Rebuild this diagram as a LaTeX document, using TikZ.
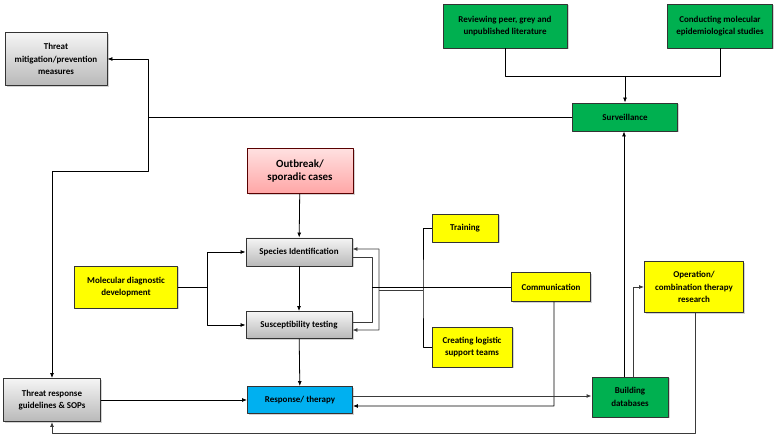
\documentclass[tikz,border=0pt]{standalone}
\usepackage{fontspec}
\setmainfont{Carlito}
\usetikzlibrary{positioning,shadows,arrows.meta}

\definecolor{boxgreen}{HTML}{00B050}
\definecolor{boxyellow}{HTML}{FFFF00}
\definecolor{boxblue}{HTML}{00B0F0}
\definecolor{busgray}{HTML}{3A3A3A}

\begin{document}
\begin{tikzpicture}[>={Latex[length=5bp,width=4bp]},line join=bevel,
  box/.style={draw=black!80,line width=0.9bp,inner sep=0pt,align=center,
    font=\bfseries\fontsize{9}{12.5}\selectfont,
    drop shadow={shadow xshift=1.5bp,shadow yshift=-1.5bp,opacity=0.35}},
  greybox/.style={box,top color=gray!8,bottom color=gray!55},
  greenbox/.style={box,fill=boxgreen},
  yellowbox/.style={box,fill=boxyellow},
  bluebox/.style={box,fill=boxblue},
  pinkbox/.style={box,top color=red!12,bottom color=red!35,draw=red!35!black,
    font=\bfseries\fontsize{11}{14}\selectfont},
  link/.style={black,line width=0.8bp},
  bus/.style={busgray,line width=0.9bp},
  ]
\useasboundingbox (0,0) rectangle (777bp,440bp);
%%
\node (mitigation) at (56bp,381bp) [greybox,minimum width=102bp,minimum height=53bp] {Threat\\mitigation/prevention\\measures};
  \node (reviewing) at (505bp,414bp) [greenbox,minimum width=124bp,minimum height=44bp] {Reviewing peer, grey and\\unpublished literature};
  \node (conducting) at (720bp,414bp) [greenbox,minimum width=105bp,minimum height=44bp] {Conducting molecular\\epidemiological studies};
  \node (surveillance) at (625bp,323bp) [greenbox,minimum width=105bp,minimum height=28bp] {Surveillance};
  \node (outbreak) at (300bp,269bp) [pinkbox,minimum width=106bp,minimum height=45bp] {Outbreak/\\sporadic cases};
  \node (species) at (299bp,188bp) [greybox,minimum width=106bp,minimum height=28bp] {Species Identification};
  \node (suscept) at (299bp,115bp) [greybox,minimum width=106bp,minimum height=27bp] {Susceptibility testing};
  \node (moldiag) at (126bp,153bp) [yellowbox,minimum width=103bp,minimum height=42bp] {Molecular diagnostic\\development};
  \node (training) at (465bp,212bp) [yellowbox,minimum width=66bp,minimum height=28bp] {Training};
  \node (logistic) at (472bp,93bp) [yellowbox,minimum width=80bp,minimum height=40bp] {Creating logistic\\support teams};
  \node (communication) at (551bp,153bp) [yellowbox,minimum width=79bp,minimum height=29bp] {Communication};
  \node (operation) at (694bp,153bp) [yellowbox,minimum width=99bp,minimum height=51bp] {Operation/\\combination therapy\\research};
  \node (response) at (300bp,40bp) [bluebox,minimum width=105bp,minimum height=27bp] {Response/ therapy};
  \node (databases) at (630bp,43bp) [greenbox,minimum width=76bp,minimum height=40bp] {Building\\databases};
  \node (guidelines) at (52bp,40bp) [greybox,minimum width=97bp,minimum height=43bp] {Threat response\\guidelines \& SOPs};
%%
  \coordinate (surv_in) at (625bp,364bp);
  \coordinate (west_bus) at (148bp,323bp);
  \coordinate (west_bend) at (148bp,269bp);
  \coordinate (mol_split) at (207bp,153bp);
  \coordinate (inner_top) at (372bp,183bp);
  \coordinate (inner_bot) at (372bp,118bp);
  \coordinate (inner_mid) at (372bp,153bp);
  \coordinate (outer_top) at (379bp,191bp);
  \coordinate (outer_bot) at (379bp,110bp);
  \coordinate (outer_mid) at (379bp,150bp);
  \coordinate (branch) at (423bp,150bp);
  \coordinate (comm_down) at (554bp,34bp);
  \coordinate (loop_se) at (695bp,7bp);
%%
  \draw [link] (reviewing.south) |- (surv_in);
  \draw [link] (conducting.south) |- (surv_in);
  \draw [link,->] (surv_in) -- (surveillance.north);
  \draw [link] (surveillance.west) -- (west_bus);
  \draw [link,->] (west_bus) |- (mitigation.east);
  \draw [link,->] (west_bus) -- (west_bend) -| (guidelines.north);
  \draw [link,->] (outbreak) -- (species);
  \draw [link,->] (species) -- (suscept);
  \draw [link,->] (suscept) -- (response);
  \draw [link] (moldiag.east) -- (mol_split);
  \draw [link,->] (mol_split) |- (species.west);
  \draw [link,->] (mol_split) |- (suscept.west);
  \draw [bus] ([yshift=-5bp]species.east) -- (inner_top) -- (inner_bot) -- ([yshift=3bp]suscept.east);
  \draw [bus,->] (outer_top) -- ([yshift=3bp]species.east);
  \draw [bus,->] (outer_top) -- (outer_bot) -- ([yshift=-5bp]suscept.east);
  \draw [link] (inner_mid) -- (communication.west);
  \draw [bus] (outer_mid) -- (branch);
  \draw [link] (training.west) -| (branch) |- (logistic.west);
  \draw [link,->] (communication.south -| comm_down) -- (comm_down) -- ([yshift=-6bp]response.east);
  \draw [bus,->] ([yshift=4bp]response.east) -- ([yshift=4bp]response.east -| databases.west);
  \draw [link,->] (guidelines.east) -- (response.west);
  \draw [link,->] ([xshift=-6bp]databases.north) -- ([xshift=-6bp]databases.north |- surveillance.south);
  \draw [bus,->] ([xshift=3bp]databases.north) |- (operation.west);
  \draw [bus,->] (operation.south -| loop_se) -- (loop_se) -| (guidelines.south);
%
\end{tikzpicture}
\end{document}
